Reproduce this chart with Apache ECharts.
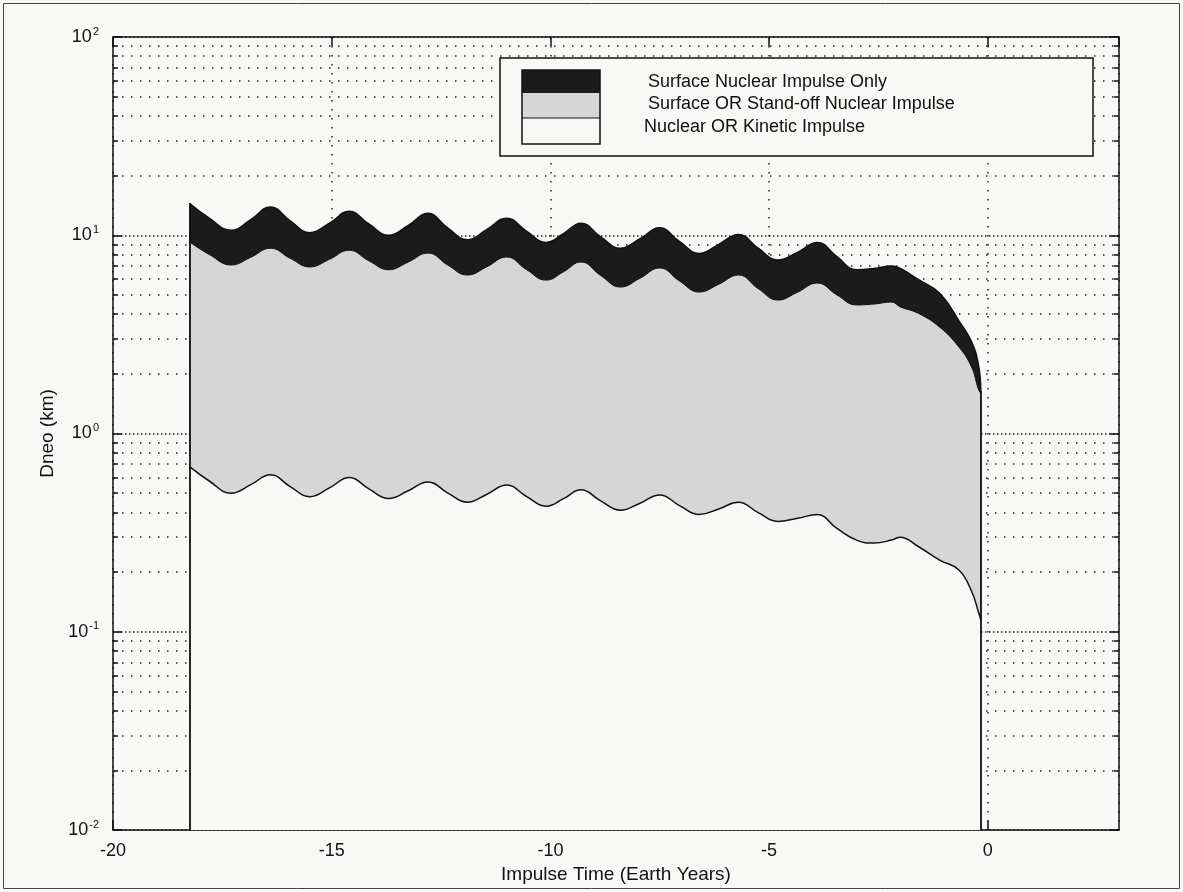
<!DOCTYPE html>
<html>
<head>
<meta charset="utf-8">
<script src="https://cdn.jsdelivr.net/npm/echarts@6/dist/echarts.min.js"></script>
<style>
  html, body { margin: 0; padding: 0; background: #f8f8f6; }
  #chart { width: 1183px; height: 892px; }
</style>
</head>
<body>
<div id="chart"></div>
<script>
// Impulse time before encounter (Earth years)
const IMPULSE_TIME = [-18.25, -17.8, -17.3, -16.85, -16.4, -15.95, -15.5, -15.05, -14.6, -14.15,
  -13.7, -13.25, -12.8, -12.35, -11.9, -11.45, -11.0, -10.55, -10.1, -9.7,
  -9.3, -8.85, -8.4, -7.95, -7.5, -7.05, -6.6, -6.15, -5.7, -5.25,
  -4.8, -4.35, -3.9, -3.45, -3.0, -2.6, -2.2, -2.0, -1.6, -1.1,
  -0.66, -0.37, -0.21, -0.16];

// Upper bound of each deflection regime, Dneo (km)
const SURFACE_ONLY_TOP = [14.5, 12.2, 10.6, 12.0, 13.9, 11.8, 10.3, 11.5, 13.2, 11.4,
  10.0, 11.2, 12.9, 10.9, 9.5, 10.7, 12.2, 10.5, 9.2, 10.2,
  11.5, 9.8, 8.6, 9.6, 10.9, 9.3, 8.1, 9.0, 10.1, 8.6,
  7.5, 8.2, 9.2, 7.8, 6.7, 6.8, 7.0, 6.8, 6.0, 5.1,
  3.7, 2.9, 2.2, 1.65];
const STANDOFF_TOP = [9.25, 8.0, 7.08, 7.74, 8.6, 7.65, 6.92, 7.56, 8.4, 7.43,
  6.7, 7.32, 8.13, 7.08, 6.3, 6.94, 7.77, 6.72, 5.94, 6.54,
  7.33, 6.26, 5.48, 6.07, 6.84, 5.88, 5.17, 5.66, 6.3, 5.38,
  4.71, 5.16, 5.74, 5.0, 4.45, 4.5, 4.6, 4.35, 4.05, 3.44,
  2.73, 2.16, 1.66, 1.6];
const KINETIC_TOP = [0.68, 0.576, 0.50, 0.552, 0.62, 0.540, 0.48, 0.532, 0.60, 0.526,
  0.47, 0.514, 0.57, 0.502, 0.45, 0.494, 0.55, 0.482, 0.43, 0.469,
  0.52, 0.457, 0.41, 0.445, 0.49, 0.433, 0.39, 0.4165, 0.45, 0.399,
  0.36, 0.3735, 0.39, 0.332, 0.29, 0.28, 0.29, 0.30, 0.27, 0.23,
  0.205, 0.16, 0.125, 0.115];

const LEGEND_LABELS = ['Surface Nuclear Impulse Only', 'Surface OR Stand-off Nuclear Impulse', 'Nuclear OR Kinetic Impulse'];

// Axis ranges and tick layout
const X_MIN = -20, X_MAX = 3, X_STEP = 5;
const Y_MIN = 0.01, Y_MAX = 100;
const Y_DECADES = [0.01, 0.1, 1, 10];
const Y_MINOR_STEPS = [2, 3, 4, 5, 6, 7, 8, 9];

const FONT = '"Liberation Sans", Arial, sans-serif';
const BG = '#f8f8f6';
const INK = '#111111';
const GRID = { left: 113, right: 64, top: 37, bottom: 62 };
const W = 1183, H = 892;

const minorValues = [];
Y_DECADES.forEach(d => Y_MINOR_STEPS.forEach(m => minorValues.push(+(m * d).toPrecision(3))));

// data units per pixel along x, used for the short minor tick marks
const xPerPx = (X_MAX - X_MIN) / (W - GRID.left - GRID.right);
const minorTickLen = 5 * xPerPx;

const pairs = values => IMPULSE_TIME.map((t, i) => [t, values[i]]);

const tStart = IMPULSE_TIME[0];
const tEnd = IMPULSE_TIME[IMPULSE_TIME.length - 1];
const edgeStyle = { color: INK, width: 1.8, type: 'solid' };

const chart = echarts.init(document.getElementById('chart'), null, { renderer: 'canvas' });

const dotted = { color: '#222', width: 1.5, type: [1.5, 7.5] };

chart.setOption({
  backgroundColor: BG,
  animation: false,
  textStyle: { fontFamily: FONT },
  grid: { left: GRID.left, right: GRID.right, top: GRID.top, bottom: GRID.bottom, containLabel: false },
  xAxis: [
    {
      type: 'value', min: X_MIN, max: X_MAX, interval: X_STEP, position: 'bottom',
      axisLine: { show: true, onZero: false, lineStyle: { color: INK, width: 1.5 } },
      axisTick: { show: true, inside: true, length: 9, lineStyle: { color: INK, width: 1.5 } },
      axisLabel: { showMaxLabel: false, fontSize: 18, color: INK, margin: 12, fontFamily: FONT },
      splitLine: { show: true, lineStyle: dotted },
      name: 'Impulse Time (Earth Years)', nameLocation: 'middle', nameGap: 34,
      nameTextStyle: { fontSize: 19, color: INK, fontFamily: FONT }
    },
    {
      type: 'value', min: X_MIN, max: X_MAX, interval: X_STEP, position: 'top',
      axisLine: { show: true, onZero: false, lineStyle: { color: INK, width: 1.5 } },
      axisTick: { show: true, inside: true, length: 9, lineStyle: { color: INK, width: 1.5 } },
      axisLabel: { show: false }, splitLine: { show: false }
    }
  ],
  yAxis: [
    {
      type: 'log', logBase: 10, min: Y_MIN, max: Y_MAX, position: 'left',
      axisLine: { show: true, onZero: false, lineStyle: { color: INK, width: 1.5 } },
      axisTick: { show: true, inside: true, length: 9, lineStyle: { color: INK, width: 1.5 } },
      axisLabel: {
        margin: 14, color: INK,
        formatter: v => '{b|10}{e|' + Math.round(Math.log10(v)) + '}',
        rich: {
          b: { fontSize: 18, fontFamily: FONT, color: INK, lineHeight: 22 },
          e: { fontSize: 11, fontFamily: FONT, color: INK, lineHeight: 10, verticalAlign: 'top', padding: [0, 0, 0, 1] }
        }
      },
      splitLine: { show: true, lineStyle: { color: '#222', width: 1.5, type: [1.5, 2.5] } },
      name: 'Dneo (km)', nameLocation: 'middle', nameGap: 54,
      nameTextStyle: { fontSize: 19, color: INK, fontFamily: FONT }
    },
    {
      type: 'log', logBase: 10, min: Y_MIN, max: Y_MAX, position: 'right',
      axisLine: { show: true, onZero: false, lineStyle: { color: INK, width: 1.5 } },
      axisTick: { show: true, inside: true, length: 9, lineStyle: { color: INK, width: 1.5 } },
      axisLabel: { show: false }, splitLine: { show: false }
    }
  ],
  series: [
    {
      name: LEGEND_LABELS[0], type: 'line', z: 2,
      data: pairs(SURFACE_ONLY_TOP), symbol: 'none', smooth: 0.45,
      lineStyle: { color: INK, width: 1.5 },
      areaStyle: { color: '#1b1b1b', opacity: 1, origin: 'start' },
      markLine: {
        z: 1, silent: true, symbol: ['none', 'none'], animation: false,
        label: { show: false }, lineStyle: dotted,
        data: minorValues.map(v => ({ yAxis: v }))
      }
    },
    {
      name: LEGEND_LABELS[1], type: 'line', z: 3,
      data: pairs(STANDOFF_TOP), symbol: 'none', smooth: 0.45,
      lineStyle: { color: INK, width: 1 },
      areaStyle: { color: '#d6d6d6', opacity: 1, origin: 'start' },
      markLine: {
        z: 10, silent: true, symbol: ['none', 'none'], animation: false,
        label: { show: false }, lineStyle: { color: INK, width: 1.5, type: 'solid' },
        data: minorValues.flatMap(v => [
          [{ coord: [X_MIN, v] }, { coord: [X_MIN + minorTickLen, v] }],
          [{ coord: [X_MAX - minorTickLen, v] }, { coord: [X_MAX, v] }]
        ]).concat([
          // outline of the regions at the first and last impulse time
          [{ coord: [tStart, Y_MIN], lineStyle: edgeStyle }, { coord: [tStart, SURFACE_ONLY_TOP[0]] }],
          [{ coord: [tEnd, Y_MIN], lineStyle: edgeStyle }, { coord: [tEnd, SURFACE_ONLY_TOP[SURFACE_ONLY_TOP.length - 1]] }]
        ])
      }
    },
    {
      name: LEGEND_LABELS[2], type: 'line', z: 4,
      data: pairs(KINETIC_TOP), symbol: 'none', smooth: 0.45,
      lineStyle: { color: INK, width: 1.5 },
      areaStyle: { color: BG, opacity: 1, origin: 'start' }
    }
  ],
  graphic: [
    { type: 'rect', silent: true, z: 100, shape: { x: 3.5, y: 3.5, width: 1176, height: 885 },
      style: { fill: 'none', stroke: '#444', lineWidth: 1 } },
    { type: 'rect', silent: true, z: 100, shape: { x: 500, y: 58, width: 593, height: 98 },
      style: { fill: BG, stroke: INK, lineWidth: 1.5 } },
    { type: 'rect', silent: true, z: 101, shape: { x: 522, y: 70, width: 78, height: 23 },
      style: { fill: '#1b1b1b' } },
    { type: 'rect', silent: true, z: 101, shape: { x: 522, y: 93, width: 78, height: 25 },
      style: { fill: '#d6d6d6' } },
    { type: 'rect', silent: true, z: 101, shape: { x: 522, y: 118, width: 78, height: 26 },
      style: { fill: BG } },
    { type: 'rect', silent: true, z: 102, shape: { x: 522, y: 70, width: 78, height: 74 },
      style: { fill: 'none', stroke: INK, lineWidth: 1.5 } },
    { type: 'line', silent: true, z: 102, shape: { x1: 522, y1: 118, x2: 600, y2: 118 },
      style: { stroke: INK, lineWidth: 1 } },
    { type: 'text', silent: true, z: 103, x: 648, y: 82,
      style: { text: LEGEND_LABELS[0], fontSize: 18, fontFamily: FONT, fill: INK, verticalAlign: 'middle' } },
    { type: 'text', silent: true, z: 103, x: 648, y: 104,
      style: { text: LEGEND_LABELS[1], fontSize: 18, fontFamily: FONT, fill: INK, verticalAlign: 'middle' } },
    { type: 'text', silent: true, z: 103, x: 644, y: 127,
      style: { text: LEGEND_LABELS[2], fontSize: 18, fontFamily: FONT, fill: INK, verticalAlign: 'middle' } }
  ]
});
</script>
</body>
</html>
